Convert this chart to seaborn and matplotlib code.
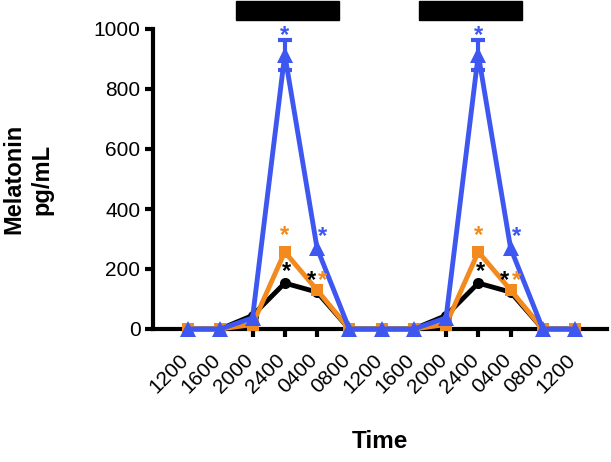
import numpy as np
import pandas as pd
import matplotlib
matplotlib.use("Agg")
import matplotlib.pyplot as plt
import matplotlib.transforms as mtransforms
import seaborn as sns

# time points (two 24 h cycles, every 4 h)
time_labels = ["1200", "1600", "2000", "2400", "0400", "0800", "1200",
               "1600", "2000", "2400", "0400", "0800", "1200"]

# melatonin pg/mL
black_vals = [0, 0, 45, 153, 123, 0, 0, 0, 45, 153, 123, 0, 0]
orange_vals = [0, 0, 15, 257, 130, 0, 0, 0, 15, 257, 130, 0, 0]
blue_vals = [0, 0, 37, 915, 270, 0, 0, 0, 37, 915, 270, 0, 0]
blue_err = [0, 0, 0, 50, 0, 0, 0, 0, 0, 50, 0, 0, 0]

# significant time points (same for all groups)
sig_idx = [3, 4, 9, 10]

# dark phase shown as black bars on top (in x index units)
dark_periods = [(1.5, 4.68), (7.16, 10.36)]

BLACK = "#000000"
ORANGE = "#F28A1E"
BLUE = "#3D57F0"

sns.set_style("ticks")
plt.rcParams["font.family"] = ["Liberation Sans", "DejaVu Sans"]

fig = plt.figure(figsize=(6.11, 4.62), dpi=100)
ax = fig.add_axes([153 / 611, 1 - 329 / 462, (607 - 153) / 611, 300 / 462])

x = np.arange(len(time_labels))
df = pd.DataFrame({"x": x, "black": black_vals, "orange": orange_vals, "blue": blue_vals})

sns.lineplot(data=df, x="x", y="black", ax=ax, color=BLACK, lw=3.5, marker="o",
             markersize=8, markeredgewidth=0, clip_on=False, zorder=3)
sns.lineplot(data=df, x="x", y="orange", ax=ax, color=ORANGE, lw=3.5, marker="s",
             markersize=9, markeredgewidth=0, clip_on=False, zorder=4)
peak_mask = np.array(blue_err) > 0
ax.errorbar(x[peak_mask], np.array(blue_vals)[peak_mask],
            yerr=np.array(blue_err)[peak_mask], fmt="none", ecolor=BLUE,
            elinewidth=3, capsize=5, capthick=3, zorder=5, clip_on=False)
sns.lineplot(data=df, x="x", y="blue", ax=ax, color=BLUE, lw=3.5, marker="^",
             markersize=11, markeredgewidth=0, clip_on=False, zorder=6)

# significance stars
star_kw = dict(ha="center", va="center", fontsize=17, fontweight="bold",
               annotation_clip=False, textcoords="offset points", zorder=8)
for i in sig_idx:
    peak = (i % 6) == 3
    if peak:
        ax.annotate("*", (x[i], blue_vals[i] + blue_err[i]), xytext=(0, 3),
                    color=BLUE, **star_kw)
        ax.annotate("*", (x[i], orange_vals[i]), xytext=(0, 12),
                    color=ORANGE, **star_kw)
        ax.annotate("*", (x[i], black_vals[i]), xytext=(1.5, 8),
                    color=BLACK, **star_kw)
    else:
        ax.annotate("*", (x[i], blue_vals[i]), xytext=(4, 8),
                    color=BLUE, **star_kw)
        ax.annotate("*", (x[i], orange_vals[i]), xytext=(4, 7),
                    color=ORANGE, **star_kw)
        ax.annotate("*", (x[i], orange_vals[i]), xytext=(-4, 7),
                    color=BLACK, **star_kw)

# dark phase bars
for x0, x1 in dark_periods:
    ax.add_patch(plt.Rectangle((x0, 1030), x1 - x0, 63, color="black",
                               clip_on=False, zorder=2))

ax.set_xlim(-1.085, 12.99)
ax.set_ylim(0, 1000)
ax.set_yticks([0, 200, 400, 600, 800, 1000])
ax.set_xticks(x)
ax.set_xticklabels(time_labels, rotation=45, ha="right", rotation_mode="anchor")

sns.despine(ax=ax)
for s in ["left", "bottom"]:
    ax.spines[s].set_linewidth(3)
    ax.spines[s].set_color("black")
ax.tick_params(axis="both", direction="out", length=6, width=3, labelsize=15,
               pad=3, colors="black")
ax.tick_params(axis="x", pad=5)

# nudge the rotated labels so they sit under their ticks
shift = mtransforms.ScaledTranslation(-9 / 100, -6 / 100, fig.dpi_scale_trans)
for lab in ax.get_xticklabels():
    lab.set_transform(lab.get_transform() + shift)

ax.set_ylabel("Melatonin\npg/mL", fontsize=17, fontweight="bold", labelpad=29,
              linespacing=1.3, color="black")
ax.set_xlabel("Time", fontsize=17.5, fontweight="bold", labelpad=24,
              color="black")

fig.savefig("out.png", dpi=100)
